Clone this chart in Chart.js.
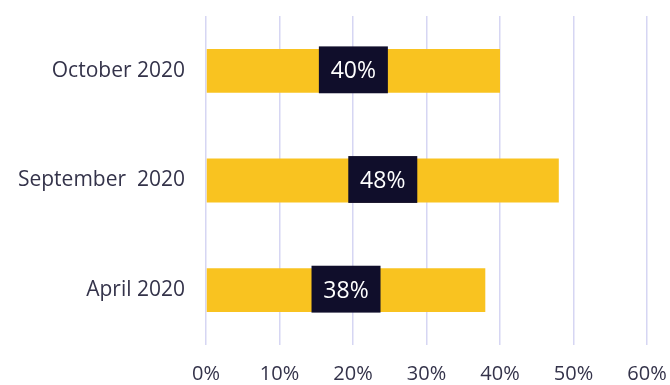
<!DOCTYPE html>
<html>
<head>
<meta charset="utf-8">
<script src="https://cdn.jsdelivr.net/npm/chart.js@4/dist/chart.umd.min.js"></script>
<style>
  html, body { margin: 0; padding: 0; background: #fff; }
  #wrap { width: 670px; height: 385px; }
</style>
</head>
<body>
<div id="wrap"><canvas id="barChart" width="670" height="385"></canvas></div>
<script>
// share of respondents per survey month
var months = ["October 2020", "September  2020", "April 2020"];
var shares = [40, 48, 38];
var tickValues = [0, 10, 20, 30, 40, 50, 60];

var barColor = "#f9c320";
var boxColor = "#100e2b";
var textColor = "#34334a";
var fontFamily = "'Open Sans'";

// dark box with the value, centred on each bar
var valueBoxes = {
    id: 'valueBoxes',
    afterDatasetsDraw: function(chart) {
        var ctx = chart.ctx;
        var meta = chart.getDatasetMeta(0);
        ctx.save();
        ctx.font = '23px ' + fontFamily;
        ctx.textAlign = 'center';
        ctx.textBaseline = 'middle';
        meta.data.forEach(function(bar, i) {
            var cx = (bar.x + bar.base) / 2;
            var h = bar.height + 3;
            var w = 69;
            ctx.fillStyle = boxColor;
            ctx.fillRect(cx - w / 2, bar.y - h / 2 - 1, w, h);
            ctx.fillStyle = '#ffffff';
            ctx.fillText(shares[i] + '%', cx, bar.y + 1);
        });
        ctx.restore();
    }
};

var ctx = document.getElementById('barChart').getContext('2d');
new Chart(ctx, {
    type: 'bar',
    data: {
        labels: months,
        datasets: [{
            data: shares,
            backgroundColor: barColor,
            barPercentage: 0.4,
            categoryPercentage: 1.0
        }]
    },
    options: {
        indexAxis: 'y',
        responsive: false,
        animation: false,
        layout: { padding: { top: 16, right: 23, bottom: 0, left: 0 } },
        plugins: {
            legend: { display: false },
            tooltip: { enabled: false }
        },
        scales: {
            x: {
                min: 0,
                max: 60,
                afterBuildTicks: function(axis) {
                    axis.ticks = tickValues.map(function(v) { return { value: v }; });
                },
                grid: { color: '#d6d6f3', lineWidth: 1.5, drawTicks: false },
                border: { display: false },
                ticks: {
                    padding: 17,
                    color: textColor,
                    font: { family: fontFamily, size: 20 },
                    callback: function(v) { return v + '%'; }
                },
                afterFit: function(axis) {
                    axis.height = 40;
                    axis.paddingLeft = 0;
                    axis.paddingRight = 0;
                }
            },
            y: {
                grid: { display: false },
                border: { display: false },
                ticks: {
                    padding: 13,
                    color: textColor,
                    font: { family: fontFamily, size: 21 }
                },
                afterFit: function(axis) {
                    axis.width = 206;
                    axis.paddingTop = 0;
                    axis.paddingBottom = 0;
                }
            }
        }
    },
    plugins: [valueBoxes]
});
</script>
</body>
</html>
